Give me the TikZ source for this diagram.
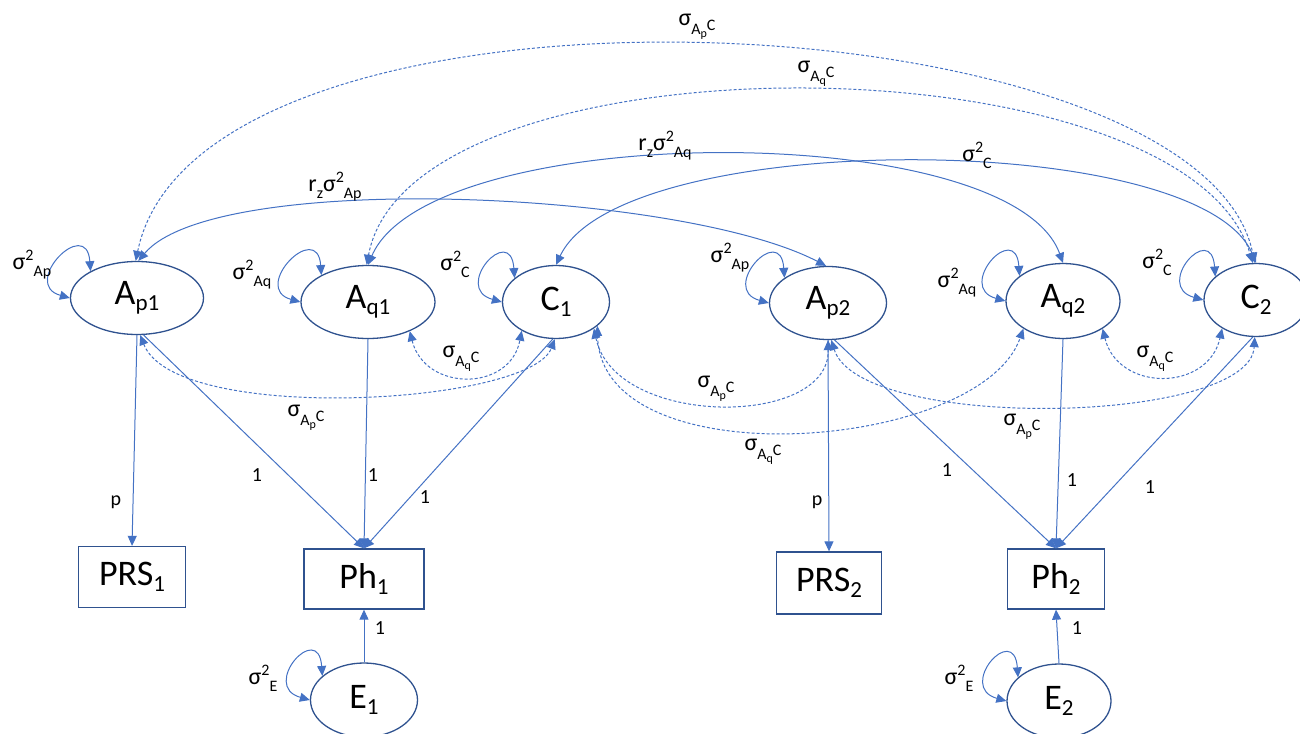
\documentclass[tikz,border=0pt]{standalone}
\usepackage{fontspec}
\setmainfont{Carlito}
\usetikzlibrary{arrows.meta,shapes.geometric}
\definecolor{lblue}{HTML}{4472C4}
\definecolor{nblue}{HTML}{2F528F}
\newcommand\nsub[2]{#1\raisebox{-6pt}{\fontsize{23}{23}\selectfont #2}}
\newcommand\up[1]{\raisebox{9pt}{\fontsize{16}{16}\selectfont #1}}
\newcommand\dn[1]{\raisebox{-7pt}{\fontsize{16}{16}\selectfont #1}}
\newcommand\sgc[1]{σ\raisebox{-9pt}{\fontsize{16}{16}\selectfont A\raisebox{-3pt}{\fontsize{12}{12}\selectfont #1}}\raisebox{-5pt}{\fontsize{16}{16}\selectfont C}}
\newcommand\vloop[1]{\draw[cov] (#1.150) .. controls +(-4,-56) and +(-50,-14) .. (#1.180);}
\begin{document}
\begin{tikzpicture}[x=1pt,y=-1pt,
  lat/.style={ellipse, draw=nblue, line width=1.3pt, inner sep=0pt, font=\fontsize{36}{40}\selectfont},
  obs/.style={rectangle, draw=nblue, line width=1.3pt, inner sep=0pt, font=\fontsize{36}{40}\selectfont},
  tip/.tip={Triangle[length=10pt,width=9pt]},
  path1/.style={draw=lblue, line width=1pt, -tip},
  cov/.style={draw=lblue, line width=1pt, tip-tip},
  covd/.style={cov, dash pattern=on 3pt off 2pt},
  lab/.style={font=\fontsize{24}{26}\selectfont, inner sep=0pt},
  num/.style={font=\fontsize{20}{22}\selectfont, inner sep=0pt},
]
\useasboundingbox (0,0) rectangle (1300,733);
% latent nodes
\node[lat, minimum width=133pt, minimum height=73pt] (Ap1) at (137,298) {\nsub{A}{p1}};
\node[lat, minimum width=134pt, minimum height=73pt] (Aq1) at (368,302) {\nsub{A}{q1}};
\node[lat, minimum width=107pt, minimum height=73pt] (C1) at (556,302) {\nsub{C}{1}};
\node[lat, minimum width=117pt, minimum height=73pt] (Ap2) at (828,303) {\nsub{A}{p2}};
\node[lat, minimum width=114pt, minimum height=75pt] (Aq2) at (1063,301) {\nsub{A}{q2}};
\node[lat, minimum width=104pt, minimum height=73pt] (C2) at (1256,300) {\nsub{C}{2}};
% observed
\node[obs, minimum width=107pt, minimum height=61pt] (PRS1) at (132,577) {\nsub{PRS}{1}};
\node[obs, minimum width=120pt, minimum height=60pt] (Ph1) at (364,579) {\nsub{Ph}{1}};
\node[obs, minimum width=105pt, minimum height=62pt] (PRS2) at (829,583) {\nsub{PRS}{2}};
\node[obs, minimum width=97pt, minimum height=60pt] (Ph2) at (1056,579) {\nsub{Ph}{2}};
\node[lat, minimum width=107pt, minimum height=74pt] (E1) at (364,700) {\nsub{E}{1}};
\node[lat, minimum width=104pt, minimum height=74pt] (E2) at (1059,701) {\nsub{E}{2}};
% straight paths
\draw[path1] (Ap1.south) -- (PRS1.north);
\draw[path1] (Ap1.-80) -- (Ph1.north);
\draw[path1] (Aq1.south) -- (Ph1.north);
\draw[path1] (C1.-95) -- (Ph1.north);
\draw[path1] (E1.north) -- (Ph1.south);
\draw[path1] (Ap2.south) -- (PRS2.north);
\draw[path1] (Ap2.-80) -- (Ph2.north);
\draw[path1] (Aq2.south) -- (Ph2.north);
\draw[path1] (C2.-95) -- (Ph2.north);
\draw[path1] (E2.north) -- (Ph2.south);
\node[num] (lp1) at (116,502) {p};
\node[num] (lp2) at (817,502) {p};
\node[num] (l1a) at (257,475) {1};
\node[num] (l1b) at (373,475) {1};
\node[num] (l1c) at (425,497) {1};
\node[num] (l1d) at (380,628) {1};
\node[num] (l2a) at (947,470) {1};
\node[num] (l2b) at (1072,480) {1};
\node[num] (l2c) at (1150,487) {1};
\node[num] (l2d) at (1077,628) {1};
% top curves
\draw[cov] (Ap1.88) .. controls (215,170) and (680,190) .. (Ap2.93);
\draw[cov] (Aq1.90) .. controls (430,120) and (1010,117) .. (Aq2.90);
\draw[cov] (C1.90) .. controls (620,128) and (1200,128) .. (C2.90);
\draw[covd] (Ap1.92) .. controls (200,-50) and (1200,-5) .. (C2.92);
\draw[covd] (Aq1.92) .. controls (410,30) and (1185,35) .. (C2.95);
\node[lab] (t1) at (335,187) {r\dn{z}σ\up{2}\dn{Ap}};
\node[lab] (t2) at (665,146) {r\dn{z}σ\up{2}\dn{Aq}};
\node[lab] (t3) at (977,155) {σ\up{2}\dn{C}};
\node[lab] (t4) at (697,27) {\sgc{p}};
\node[lab] (t5) at (816,74) {\sgc{q}};
% lower dashed covariances
\draw[covd] (Ap1.-85) .. controls (175,425) and (530,405) .. (C1.-92);
\draw[covd] (Aq1.-35) .. controls (425,392) and (510,392) .. (C1.-140);
\draw[covd] (C1.-35) .. controls (615,428) and (830,428) .. (Ap2.-90);
\draw[covd] (C1.-30) .. controls (600,480) and (980,452) .. (Aq2.-145);
\draw[covd] (Ap2.-85) .. controls (860,432) and (1250,425) .. (C2.-92);
\draw[covd] (Aq2.-35) .. controls (1118,392) and (1208,392) .. (C2.-140);
\node[lab] (b1) at (306,418) {\sgc{p}};
\node[lab] (b2) at (461,359) {\sgc{q}};
\node[lab] (b3) at (716,389) {\sgc{p}};
\node[lab] (b4) at (763,452) {\sgc{q}};
\node[lab] (b5) at (1022,427) {\sgc{p}};
\node[lab] (b6) at (1155,359) {\sgc{q}};
% variance loops
\vloop{Ap1}
\vloop{Aq1}
\vloop{C1}
\vloop{Ap2}
\vloop{Aq2}
\vloop{C2}
\vloop{E1}
\vloop{E2}
\node[lab] (v1) at (32,265) {σ\up{2}\dn{Ap}};
\node[lab] (v2) at (252,275) {σ\up{2}\dn{Aq}};
\node[lab] (v3) at (455,264) {σ\up{2}\dn{C}};
\node[lab] (v4) at (730,258) {σ\up{2}\dn{Ap}};
\node[lab] (v5) at (957,283) {σ\up{2}\dn{Aq}};
\node[lab] (v6) at (1157,262) {σ\up{2}\dn{C}};
\node[lab] (v7) at (263,678) {σ\up{2}\dn{E}};
\node[lab] (v8) at (959,678) {σ\up{2}\dn{E}};
\end{tikzpicture}
\end{document}
